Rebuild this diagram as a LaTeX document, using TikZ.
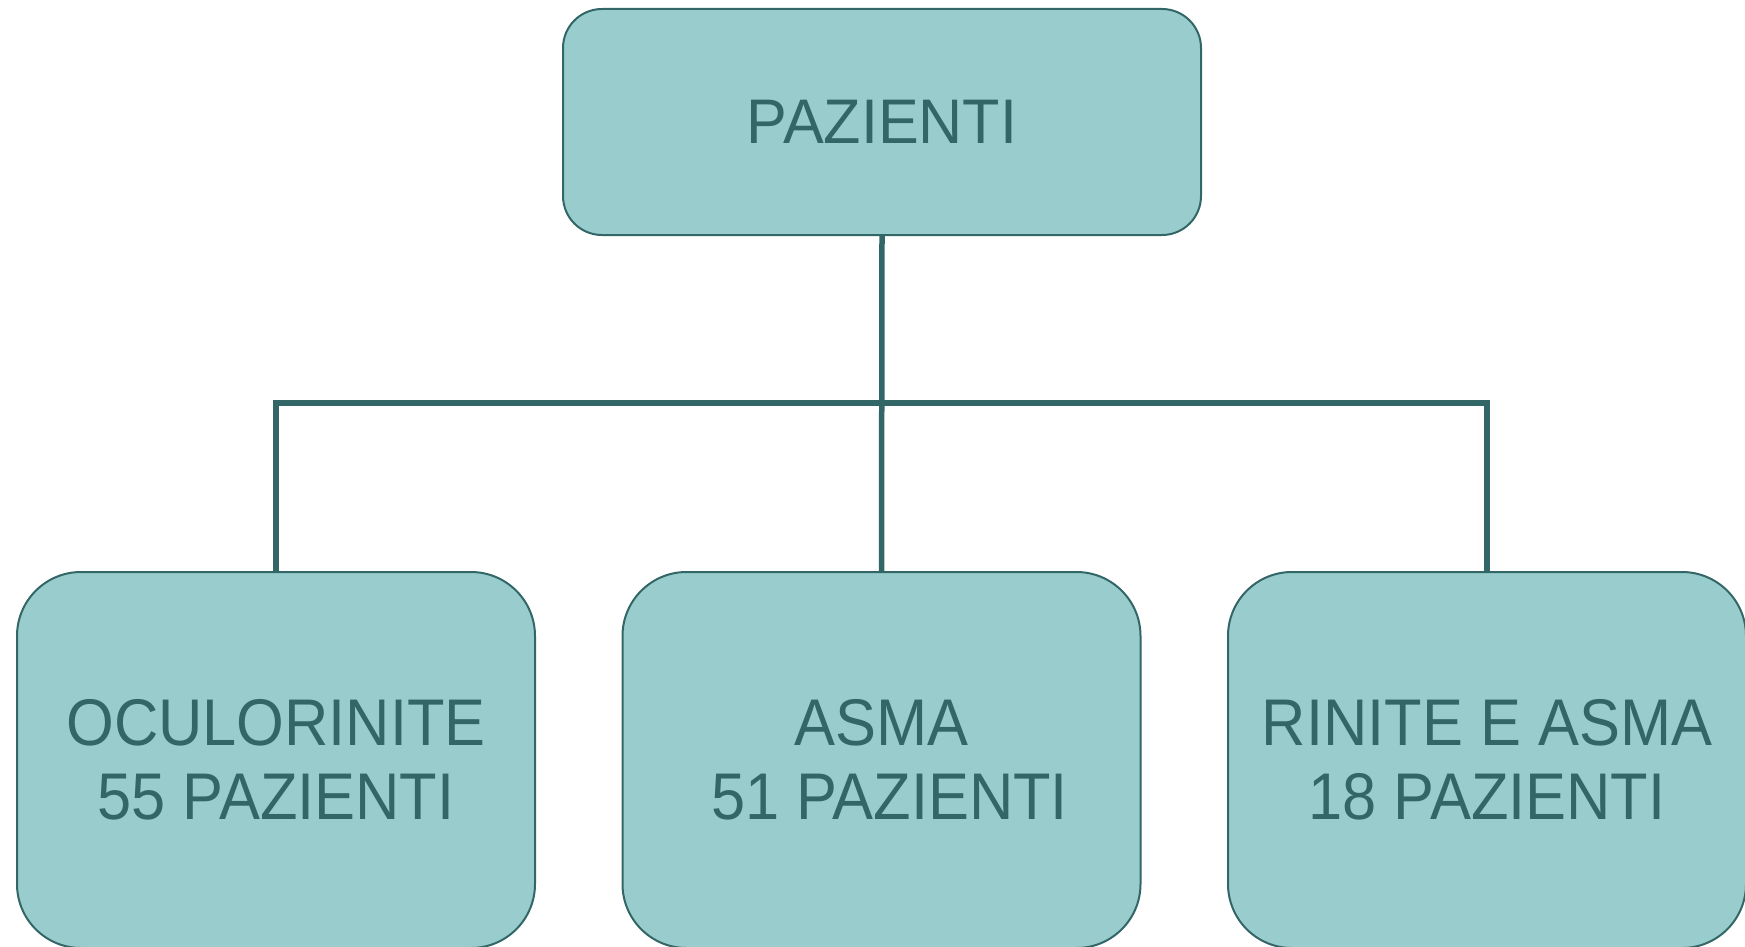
\documentclass[tikz,border=0pt]{standalone}
\usepackage{fontspec}
\setmainfont{Liberation Sans}
\definecolor{boxfill}{HTML}{99CCCC}
\definecolor{darkteal}{HTML}{336666}
\newcommand\narrowtxt[1]{\scalebox{0.93}[1]{#1}}
\newcommand\narrowtop[1]{\scalebox{0.97}[1]{#1}}
\begin{document}
\begin{tikzpicture}[x=1pt,y=-1pt,
  topbox/.style={draw=darkteal, fill=boxfill, line width=2pt, rounded corners=39pt,
    minimum width=638pt, minimum height=226pt, inner sep=0pt, text=darkteal,
    font=\fontsize{63}{70}\selectfont},
  leafbox/.style={draw=darkteal, fill=boxfill, line width=2pt, rounded corners=64pt,
    minimum width=518pt, minimum height=376pt, inner sep=0pt, text=darkteal, align=center,
    font=\fontsize{66}{73.5}\selectfont},
  conn/.style={draw=darkteal, line width=5.5pt}]
\useasboundingbox (0,0) rectangle (1745,947);
\node[topbox] (top) at (882,122) {\narrowtop{PAZIENTI}};
\node[leafbox] (b1) at (276,760) {\narrowtxt{OCULORINITE}\\\narrowtxt{55 PAZIENTI}};
\node[leafbox] (b2) at (881.5,760) {\narrowtxt{ASMA}\\\hspace*{16pt}\narrowtxt{51 PAZIENTI}};
\node[leafbox] (b3) at (1487,760) {\narrowtxt{RINITE E ASMA}\\\narrowtxt{18 PAZIENTI}};
\coordinate (hub) at (881.5,403);
\draw[conn] (top.south) -- (b2.north);
\draw[conn] (b1.north) -- (b1.north |- hub) -- (b3.north |- hub) -- (b3.north);
\end{tikzpicture}
\end{document}
